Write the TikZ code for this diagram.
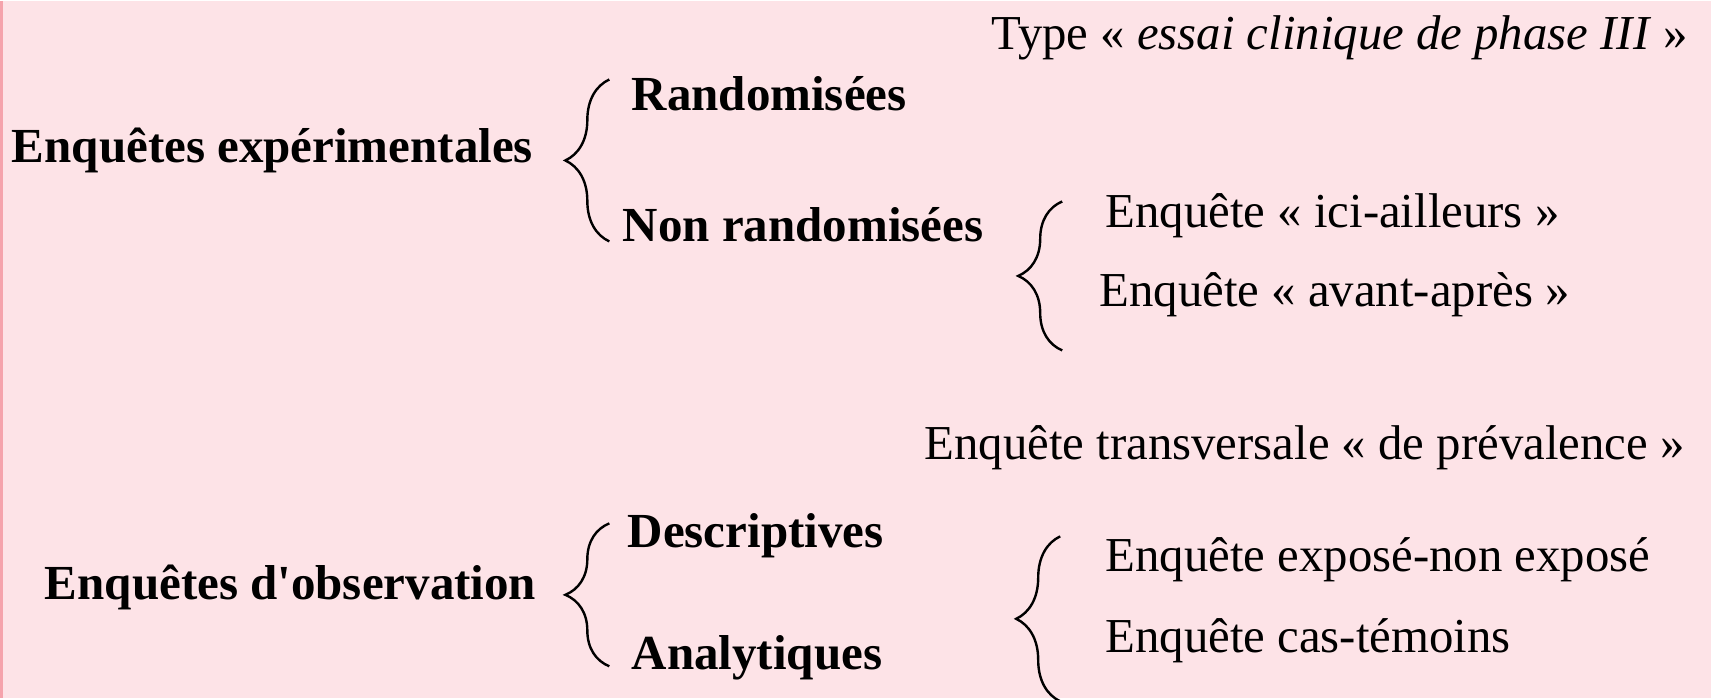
\documentclass[tikz,border=0pt]{standalone}
\usepackage{fontspec}
\setmainfont{Liberation Serif}[Ligatures=TeXOff]
\usetikzlibrary{decorations.pathreplacing}
\definecolor{fondrose}{HTML}{FDE3E7}
\definecolor{bordrose}{HTML}{F5A3AC}
\begin{document}
\begin{tikzpicture}[x=0.5pt, y=-0.5pt,
	gras/.style={anchor=base west, inner sep=0pt, font=\fontsize{24.5}{28}\selectfont\bfseries},
	fin/.style={anchor=base west, inner sep=0pt, font=\fontsize{24.4}{28}\selectfont},
	accolade/.style={decorate, decoration={brace, amplitude=22pt}, line width=1.2pt}]
	% 1. fond
	\fill[fondrose] (0,0) rectangle (1711,697);
	\draw[bordrose, line width=1.5pt] (1,0) -- (1,697);
	\useasboundingbox (0,0) rectangle (1711,697);
	
	% 2. enquetes experimentales
	\node[gras] (exper) at (11,161) {Enquêtes expérimentales};
	\node[gras] (rando) at (631,109) {Randomisées};
	\node[gras] (nonrando) at (622,240) {Non randomisées};
	\node[fin] (type) at (991,48) {Type « \textit{essai clinique de phase III} »};
	\node[fin] (ici) at (1105,226) {Enquête « ici-ailleurs »};
	\node[fin] (avant) at (1099,305) {Enquête « avant-après »};
	
	% 3. enquetes d'observation
	\node[gras] (obser) at (44,598) {Enquêtes d'observation};
	\node[gras] (descr) at (627,546) {Descriptives};
	\node[gras] (analy) at (631,668) {Analytiques};
	\node[fin] (transv) at (924,458) {Enquête transversale « de prévalence »};
	\node[fin] (expo) at (1105,570) {Enquête exposé-non exposé};
	\node[fin] (cas) at (1105,651) {Enquête cas-témoins};
	
	% 4. accolades
	\coordinate (a1h) at (609,78);   \coordinate (a1b) at (609,240);
	\coordinate (a2h) at (1062,200); \coordinate (a2b) at (1062,349);
	\coordinate (a3h) at (609,522);  \coordinate (a3b) at (609,665);
	\coordinate (a4h) at (1060,535); \coordinate (a4b) at (1060,700);
	\draw[accolade] (a1b) -- (a1h);
	\draw[accolade] (a2b) -- (a2h);
	\draw[accolade] (a3b) -- (a3h);
	\draw[accolade] (a4b) -- (a4h);
\end{tikzpicture}
\end{document}
